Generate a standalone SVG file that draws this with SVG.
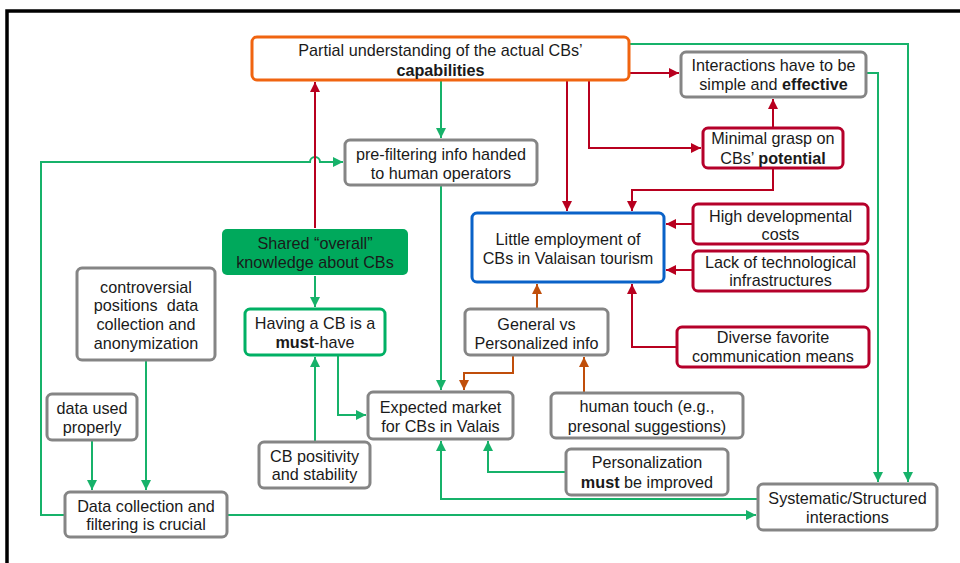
<svg xmlns="http://www.w3.org/2000/svg" width="960" height="563" viewBox="0 0 960 563">
<defs>
<style>
text{font-family:"Liberation Sans",Arial,sans-serif;font-size:16.2px;fill:#1a1a1a;text-anchor:middle}
.b{font-weight:bold}
.box{fill:#fff;stroke-width:3}
.gray{stroke:#858585}
.red{stroke:#b5002a}
.grn{stroke:#00b064}
.c{fill:none;stroke-width:2}
.cg{stroke:#17b26a}
.cr{stroke:#b8001f}
.co{stroke:#c04e0a}
</style>
<marker id="ag" viewBox="0 0 10 10" refX="10" refY="5" markerWidth="10" markerHeight="10" markerUnits="userSpaceOnUse" orient="auto"><path d="M0,0 L10,5 L0,10 z" fill="#17b26a"/></marker>
<marker id="ar" viewBox="0 0 10 10" refX="10" refY="5" markerWidth="10" markerHeight="10" markerUnits="userSpaceOnUse" orient="auto"><path d="M0,0 L10,5 L0,10 z" fill="#b8001f"/></marker>
<marker id="ao" viewBox="0 0 10 10" refX="10" refY="5" markerWidth="10" markerHeight="10" markerUnits="userSpaceOnUse" orient="auto"><path d="M0,0 L10,5 L0,10 z" fill="#c04e0a"/></marker>
</defs>
<rect x="0" y="0" width="960" height="563" fill="#fff"/>
<rect x="7" y="11" width="1000" height="600" fill="none" stroke="#000" stroke-width="3.5"/>

<g id="connectors">
<!-- green -->
<path class="c cg" d="M441,81 L441,138" marker-end="url(#ag)"/>
<path class="c cg" d="M630,44 L908,44 L908,482" marker-end="url(#ag)"/>
<path class="c cg" d="M867,73 L878,73 L878,482" marker-end="url(#ag)"/>
<path class="c cg" d="M441,186 L441,390" marker-end="url(#ag)"/>
<path class="c cg" d="M65,515 L41,515 L41,162 L310,162 A5,5 0 0 1 320,162 L343,162" marker-end="url(#ag)"/>
<path class="c cg" d="M228,515 L756,515" marker-end="url(#ag)"/>
<path class="c cg" d="M757,499 L441,499 L441,441" marker-end="url(#ag)"/>
<path class="c cg" d="M565,472 L488,472 L488,441" marker-end="url(#ag)"/>
<path class="c cg" d="M315,276 L315,307" marker-end="url(#ag)"/>
<path class="c cg" d="M315,441 L315,357" marker-end="url(#ag)"/>
<path class="c cg" d="M338,356 L338,415 L366,415" marker-end="url(#ag)"/>
<path class="c cg" d="M146,361 L146,490" marker-end="url(#ag)"/>
<path class="c cg" d="M92,441 L92,490" marker-end="url(#ag)"/>
<!-- red -->
<path class="c cr" d="M315,228 L315,82" marker-end="url(#ar)"/>
<path class="c cr" d="M630,73 L679,73" marker-end="url(#ar)"/>
<path class="c cr" d="M589,81 L589,148 L701,148" marker-end="url(#ar)"/>
<path class="c cr" d="M567,81 L567,211" marker-end="url(#ar)"/>
<path class="c cr" d="M773,169 L773,190 L632,190 L632,211" marker-end="url(#ar)"/>
<path class="c cr" d="M773,127 L773,99" marker-end="url(#ar)"/>
<path class="c cr" d="M692,224 L666,224" marker-end="url(#ar)"/>
<path class="c cr" d="M692,270 L666,270" marker-end="url(#ar)"/>
<path class="c cr" d="M676,347 L632,347 L632,284" marker-end="url(#ar)"/>
<!-- brown -->
<path class="c co" d="M537,308 L537,284" marker-end="url(#ao)"/>
<path class="c co" d="M513,356 L513,373 L464,373 L464,390" marker-end="url(#ao)"/>
<path class="c co" d="M584,392 L584,357" marker-end="url(#ao)"/>
</g>

<g id="n_partial">
<rect class="box" x="252" y="37" width="377" height="43" rx="5" stroke="#f06410"/>
<text x="440.5" y="55.5">Partial understanding of the actual CBs’</text>
<text x="440.5" y="75.5" class="b">capabilities</text>
</g>
<g id="n_interactions">
<rect class="box gray" x="681" y="52" width="185" height="45" rx="5"/>
<text x="773.5" y="70.5">Interactions have to be</text>
<text x="773.5" y="89.5">simple and <tspan class="b">effective</tspan></text>
</g>
<g id="n_minimal">
<rect class="box red" x="703" y="128" width="140" height="40" rx="5"/>
<text x="773" y="143.5">Minimal grasp on</text>
<text x="773" y="163.5">CBs’ <tspan class="b">potential</tspan></text>
</g>
<g id="n_prefilter">
<rect class="box gray" x="345" y="140" width="192" height="45" rx="5"/>
<text x="441" y="159.5">pre-filtering info handed</text>
<text x="441" y="178.5">to human operators</text>
</g>
<g id="n_shared">
<rect x="222" y="229" width="186" height="46" rx="5" fill="#00a95c"/>
<text x="315" y="248.5">Shared “overall”</text>
<text x="315" y="267.5">knowledge about CBs</text>
</g>
<g id="n_controversial">
<rect class="box gray" x="77" y="268" width="138" height="92" rx="5"/>
<text x="146" y="292.5">controversial</text>
<text x="146" y="311" xml:space="preserve">positions  data</text>
<text x="146" y="329.5">collection and</text>
<text x="146" y="348.5">anonymization</text>
</g>
<g id="n_having">
<rect class="box grn" x="245" y="309" width="140" height="46" rx="5"/>
<text x="315" y="328.5">Having a CB is a</text>
<text x="315" y="347.5"><tspan class="b">must</tspan>-have</text>
</g>
<g id="n_little">
<rect class="box" x="472" y="213" width="192" height="69" rx="5" stroke="#0a62c8"/>
<text x="568" y="244.5">Little employment of</text>
<text x="568" y="263.5">CBs in Valaisan tourism</text>
</g>
<g id="n_high">
<rect class="box red" x="693" y="204" width="175" height="40" rx="5"/>
<text x="780.5" y="221.5">High developmental</text>
<text x="780.5" y="239.5">costs</text>
</g>
<g id="n_lack">
<rect class="box red" x="693" y="251" width="175" height="40" rx="5"/>
<text x="780.5" y="267.5">Lack of technological</text>
<text x="780.5" y="285.5">infrastructures</text>
</g>
<g id="n_diverse">
<rect class="box red" x="677" y="327" width="192" height="40" rx="5"/>
<text x="773" y="342.5">Diverse favorite</text>
<text x="773" y="361.5">communication means</text>
</g>
<g id="n_general">
<rect class="box gray" x="465" y="309" width="143" height="46" rx="5"/>
<text x="536.5" y="329.5">General vs</text>
<text x="536.5" y="348.5">Personalized info</text>
</g>
<g id="n_expected">
<rect class="box gray" x="368" y="392" width="145" height="47" rx="5"/>
<text x="440.5" y="412.5">Expected market</text>
<text x="440.5" y="431.5">for CBs in Valais</text>
</g>
<g id="n_human">
<rect class="box gray" x="551" y="393" width="192" height="45" rx="5"/>
<text x="647" y="411.5">human touch (e.g.,</text>
<text x="647" y="431.5">presonal suggestions)</text>
</g>
<g id="n_personalization">
<rect class="box gray" x="566" y="449" width="162" height="46" rx="5"/>
<text x="647" y="467.5">Personalization</text>
<text x="647" y="487.5"><tspan class="b">must</tspan> be improved</text>
</g>
<g id="n_systematic">
<rect class="box gray" x="758" y="484" width="179" height="46" rx="5"/>
<text x="847.5" y="503.5">Systematic/Structured</text>
<text x="847.5" y="522.5">interactions</text>
</g>
<g id="n_dataused">
<rect class="box gray" x="47" y="394" width="90" height="46" rx="5"/>
<text x="92" y="413.5">data used</text>
<text x="92" y="432.5">properly</text>
</g>
<g id="n_datacollection">
<rect class="box gray" x="65" y="492" width="162" height="45" rx="5"/>
<text x="146" y="511.5">Data collection and</text>
<text x="146" y="529.5">filtering is crucial</text>
</g>
<g id="n_cbpositivity">
<rect class="box gray" x="259" y="442" width="111" height="46" rx="5"/>
<text x="314.5" y="461.5">CB positivity</text>
<text x="314.5" y="479.5">and stability</text>
</g>
</svg>
